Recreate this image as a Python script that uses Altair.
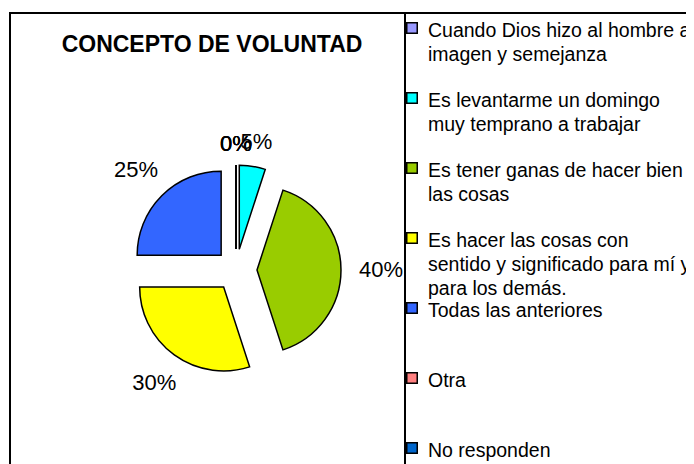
import altair as alt
import pandas as pd

# ---- data ----
categories = [
    "Cuando Dios hizo al hombre a imagen y semejanza",
    "Es levantarme un domingo muy temprano a trabajar",
    "Es tener ganas de hacer bien las cosas",
    "Es hacer las cosas con sentido y significado para mí y para los demás.",
    "Todas las anteriores",
    "Otra",
    "No responden",
]
values = [0, 5, 40, 30, 25, 0, 0]
colors = ["#9999FF", "#00FFFF", "#99CC00", "#FFFF00", "#3366FF", "#FF8080", "#0066CC"]
legend_labels = [
    "Cuando Dios hizo al hombre a\nimagen y semejanza",
    "Es levantarme un domingo\nmuy temprano a trabajar",
    "Es tener ganas de hacer bien\nlas cosas",
    "Es hacer las cosas con\nsentido y significado para mí y\npara los demás.",
    "Todas las anteriores",
    "Otra",
    "No responden",
]
title_text = "CONCEPTO DE VOLUNTAD"

df = pd.DataFrame({
    "cat": categories,
    "value": values,
    "color": colors,
    "legend": legend_labels,
    "order": list(range(len(categories))),
})

# ---- layout / style ----
FONT = "Liberation Sans"
W, H = 395, 460          # pie panel
LW = 300                 # legend panel
CX, CY = 226, 257        # pie centre inside the panel
R = 84                   # pie radius
EXPLODE = 21             # explosion distance
LEG_TOP, LEG_STEP = 15, 70   # legend entry placement (px)

base = (
    alt.Chart(df)
    .transform_window(cum="sum(value)", sort=[alt.SortField("order")], frame=[None, 0])
    .transform_joinaggregate(total="sum(value)")
    .transform_calculate(
        t0="2*PI*(datum.cum - datum.value)/datum.total",
        t1="2*PI*datum.cum/datum.total",
    )
    .transform_calculate(mid="(datum.t0 + datum.t1)/2")
    .transform_calculate(
        ex=f"{EXPLODE}*sin(datum.mid)",
        ey=f"{EXPLODE}*cos(datum.mid)",
        labelR="100 + 24*abs(sin(datum.mid)) + 5*abs(cos(datum.mid))",
        pct="datum.value + '%'",
    )
)

xenc = alt.X("ex:Q", scale=alt.Scale(domain=[-CX, W - CX], nice=False, zero=False), axis=None)
yenc = alt.Y("ey:Q", scale=alt.Scale(domain=[-(H - CY), CY], nice=False, zero=False), axis=None)

arcs = base.mark_arc(outerRadius=R, stroke="black", strokeWidth=1.5).encode(
    x=xenc,
    y=yenc,
    theta=alt.Theta("t0:Q", scale=None, stack=False),
    theta2="t1:Q",
    color=alt.Color("color:N", scale=None),
    order=alt.Order("order:Q"),
)

labels = base.mark_text(font=FONT, fontSize=22, color="black").encode(
    x=xenc,
    y=yenc,
    theta=alt.Theta("mid:Q", scale=None, stack=False),
    radius=alt.Radius("labelR:Q", scale=None),
    text="pct:N",
)

title_mark = alt.Chart(pd.DataFrame({"t": [title_text]})).mark_text(
    font=FONT, fontSize=23, fontWeight="bold", baseline="alphabetic", color="black"
).encode(x=alt.value(202), y=alt.value(39), text="t:N")

left = alt.layer(arcs, labels, title_mark).properties(width=W, height=H)

leg_y = alt.Y(
    "order:Q",
    scale=alt.Scale(
        domain=[-LEG_TOP / LEG_STEP, (H - LEG_TOP) / LEG_STEP],
        reverse=True, nice=False, zero=False,
    ),
    axis=None,
)

symbols = alt.Chart(df).mark_point(
    shape="square", filled=True, size=110, stroke="black", strokeWidth=1.5, opacity=1
).encode(x=alt.value(7), y=leg_y, fill=alt.Color("color:N", scale=None))

legend_text = alt.Chart(df).mark_text(
    align="left", baseline="alphabetic", dy=9, fontSize=19.5, font=FONT,
    lineBreak="\n", lineHeight=24, color="black"
).encode(x=alt.value(23), y=leg_y, text="legend:N")

right = alt.layer(symbols, legend_text).properties(width=LW, height=H)

# fixed canvas of 678x448 (window minus page margin); the frame runs past its edges
chart = (
    alt.hconcat(left, right, spacing=0, bounds="flush")
    .properties(
        autosize=alt.AutoSizeParams(type="none"),
        padding={"left": 2, "top": 5, "right": 676, "bottom": 443},
    )
    .configure_view(stroke="black", strokeWidth=2)
)

chart.save("out.html", embed_options={"renderer": "svg", "actions": False})
